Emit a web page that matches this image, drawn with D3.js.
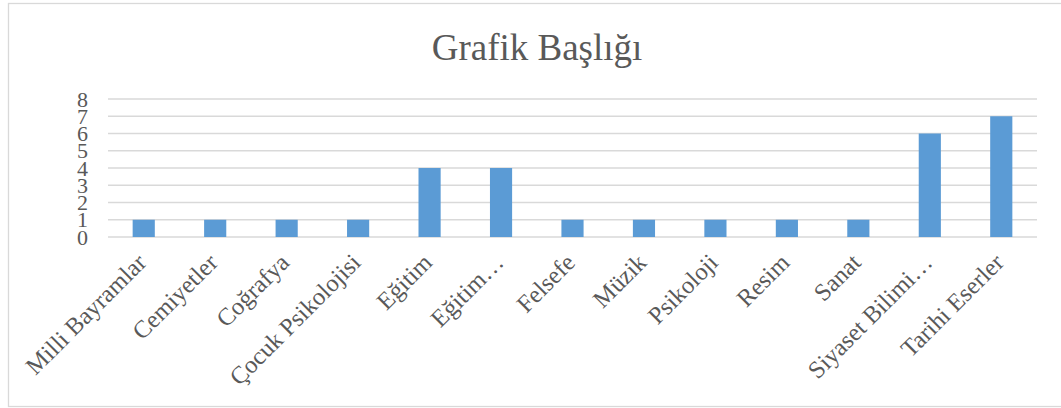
<!DOCTYPE html>
<html>
<head>
<meta charset="utf-8">
<script src="https://cdn.jsdelivr.net/npm/d3@7"></script>
<style>
  body { margin: 0; background: #fff; }
  text { font-family: "Liberation Serif", "Times New Roman", serif; fill: #595959; }
</style>
</head>
<body>
<div id="chart"></div>
<script>
const categories = [
  "Milli Bayramlar", "Cemiyetler", "Coğrafya", "Çocuk Psikolojisi", "Eğitim",
  "Eğitim…", "Felsefe", "Müzik", "Psikoloji", "Resim", "Sanat",
  "Siyaset Bilimi…", "Tarihi Eserler"
];
const counts = [1, 1, 1, 1, 4, 4, 1, 1, 1, 1, 1, 6, 7];
const yTicks = [0, 1, 2, 3, 4, 5, 6, 7, 8];
const chartTitle = "Grafik Başlığı";

const width = 1061;
const height = 408;
const margin = { top: 99, right: 24, bottom: 171, left: 108 };

const svg = d3
  .select("#chart")
  .append("svg")
  .attr("width", width)
  .attr("height", height);

// chart area border
svg.append("rect")
  .attr("x", 8.5)
  .attr("y", 3.5)
  .attr("width", 1060)
  .attr("height", 403)
  .attr("fill", "none")
  .attr("stroke", "#d9d9d9")
  .attr("stroke-width", 1.3);

const x = d3
  .scaleBand()
  .domain(categories)
  .range([margin.left, width - margin.right])
  .paddingInner(0.69)
  .paddingOuter(0.345);

const y = d3
  .scaleLinear()
  .domain([0, 8])
  .range([height - margin.bottom, margin.top]);

// gridlines
svg.append("g")
  .selectAll("line")
  .data(yTicks)
  .enter()
  .append("line")
  .attr("x1", margin.left)
  .attr("x2", width - margin.right)
  .attr("y1", (d) => y(d))
  .attr("y2", (d) => y(d))
  .attr("stroke", "#d9d9d9")
  .attr("stroke-width", 1.4);

// y axis labels
const yAxis = d3.axisLeft(y).tickValues(yTicks).tickSize(0).tickPadding(0);
const yG = svg.append("g")
  .attr("transform", `translate(${margin.left - 20},0)`)
  .call(yAxis);
yG.select(".domain").remove();
yG.selectAll("text")
  .attr("font-size", 22)
  .attr("font-family", "Liberation Serif")
  .attr("fill", "#595959")
  .attr("dy", "0.32em");

// bars
svg.append("g")
  .selectAll("rect")
  .data(counts)
  .enter()
  .append("rect")
  .attr("x", (d, i) => x(categories[i]))
  .attr("y", (d) => y(d))
  .attr("width", x.bandwidth())
  .attr("height", (d) => y(0) - y(d))
  .attr("fill", "#5b9bd5");

// x axis labels, rotated
const xAxis = d3.axisBottom(x).tickSize(0).tickPadding(0);
const xG = svg.append("g")
  .attr("transform", `translate(0,${y(0)})`)
  .call(xAxis);
xG.select(".domain").remove();
xG.selectAll("text")
  .attr("font-size", 24.5)
  .attr("font-family", "Liberation Serif")
  .attr("fill", "#595959")
  .attr("text-anchor", "end")
  .attr("dy", 0)
  .attr("transform", "translate(4,27) rotate(-45)");

// title
svg.append("text")
  .attr("x", 537)
  .attr("y", 60)
  .attr("text-anchor", "middle")
  .attr("font-size", 37)
  .text(chartTitle);
</script>
</body>
</html>
